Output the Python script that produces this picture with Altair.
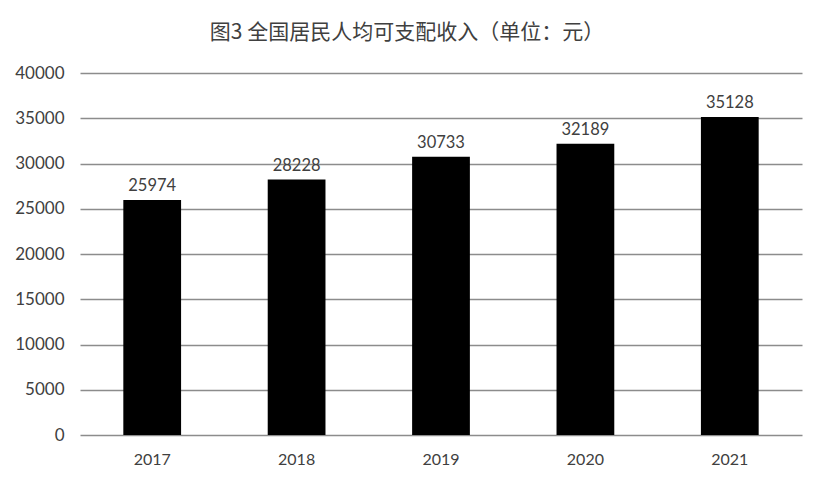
import altair as alt
import pandas as pd

years = ["2017", "2018", "2019", "2020", "2021"]
income = [25974, 28228, 30733, 32189, 35128]
title_text = "图3 全国居民人均可支配收入（单位：元）"

df = pd.DataFrame({"year": years, "income": income})

base = alt.Chart(df).encode(
    x=alt.X("year:N", sort=years, title=None,
            scale=alt.Scale(paddingInner=0.6, paddingOuter=0.3),
            axis=alt.Axis(labelAngle=0, ticks=False, domain=False,
                          labelFont="Lato", labelFontSize=16, labelColor="#404040",
                          labelPadding=16)),
    y=alt.Y("income:Q", title=None,
            scale=alt.Scale(domain=[0, 40000]),
            axis=alt.Axis(values=[0, 5000, 10000, 15000, 20000, 25000, 30000, 35000, 40000],
                          format="d",
                          ticks=False, domain=False, grid=True,
                          gridColor="#8c8c8c", gridWidth=1.5,
                          labelFont="Lato", labelFontSize=17, labelColor="#404040",
                          labelPadding=16)),
)

bars = base.mark_bar(color="#000000")
labels = base.mark_text(dy=-14, font="Lato", fontSize=16.5, color="#404040").encode(
    text=alt.Text("income:Q", format="d")
)

chart = (bars + labels).properties(
    width=722,
    height=362,
    padding={"left": 72, "top": 65, "right": 4, "bottom": 50},
    autosize=alt.AutoSizeParams(type="none"),
    title=alt.TitleParams(title_text, font="Noto Sans CJK SC", fontSize=21,
                          fontWeight="normal", color="#404040",
                          anchor="middle", dx=-34, offset=21),
).configure_view(stroke=None)

chart.save("out.html", embed_options={"renderer": "svg", "actions": False})
